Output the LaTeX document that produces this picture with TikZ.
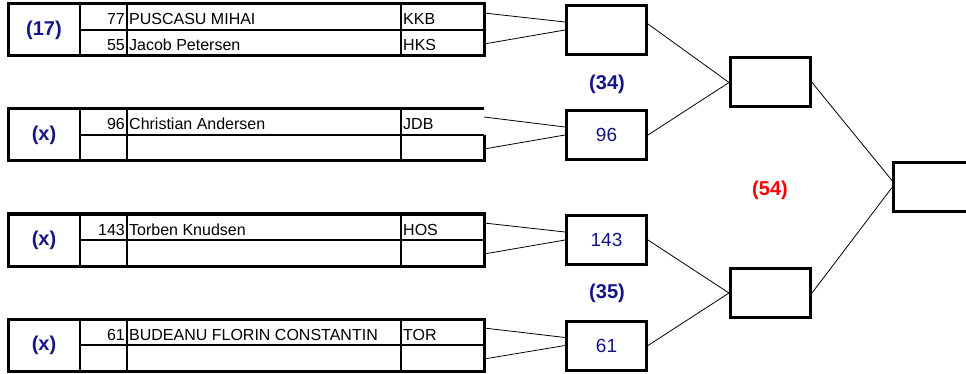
\documentclass[tikz,border=0pt]{standalone}
\usepackage{fontspec}
\setmainfont{Liberation Sans}
\definecolor{navy}{RGB}{20,20,135}
\definecolor{hot}{RGB}{255,0,0}

\begin{document}
\begin{tikzpicture}[x=1pt, y=-1pt,
    outer/.style = {line width=3pt},
    inner/.style = {line width=2pt},
    wire/.style = {line width=0.8pt},
    seed/.style = {font=\fontsize{20}{22}\selectfont\bfseries, text=navy},
    num/.style = {anchor=base east, inner sep=0, font=\fontsize{16}{18}\selectfont},
    plname/.style = {anchor=base west, inner sep=0, font=\fontsize{16}{18}\selectfont},
    slot/.style = {draw, line width=3pt, minimum width=80pt, minimum height=49pt, inner sep=0,
                   font=\fontsize{19}{21}\selectfont, text=navy},
    match/.style = {font=\fontsize{20}{22}\selectfont\bfseries, text=navy}]
  \useasboundingbox (0,0) rectangle (966,374);

  % table 1
  \draw[outer] (8,4) rectangle (484,56);
  \draw[inner] (80,4) -- (80,56) (127,4) -- (127,56) (401,4) -- (401,56) (80,30) -- (484,30);
  \node[seed] (s1) at (44,30) {(17)};
  \node[num] (n1a) at (125,25) {77};
  \node[plname] (p1a) at (129,25) {PUSCASU MIHAI};
  \node[plname] (c1a) at (403,25) {KKB};
  \node[num] (n1b) at (125,51) {55};
  \node[plname] (p1b) at (129,51) {Jacob Petersen};
  \node[plname] (c1b) at (403,51) {HKS};
  \coordinate (t1a) at (484,13);
  \coordinate (t1b) at (484,44);

  % table 2
  \draw[outer] (484,135) -- (484,161) -- (8,161) -- (8,109) -- (484,109);
  \draw[inner] (80,109) -- (80,161) (127,109) -- (127,161) (401,109) -- (401,161) (80,135) -- (484,135);
  \node[seed] (s2) at (44,135) {(x)};
  \node[num] (n2a) at (125,130) {96};
  \node[plname] (p2a) at (129,130) {Christian Andersen};
  \node[plname] (c2a) at (403,130) {JDB};
  \coordinate (t2a) at (484,117);
  \coordinate (t2b) at (484,149);

  % table 3
  \draw[outer] (8,214) rectangle (484,266);
  \draw[inner] (80,214) -- (80,266) (127,214) -- (127,266) (401,214) -- (401,266) (80,240) -- (484,240);
  \node[seed] (s3) at (44,240) {(x)};
  \node[num] (n3a) at (125,235) {143};
  \node[plname] (p3a) at (129,235) {Torben Knudsen};
  \node[plname] (c3a) at (403,235) {HOS};
  \coordinate (t3a) at (484,223);
  \coordinate (t3b) at (484,254);

  % table 4
  \draw[outer] (8,319) rectangle (484,371);
  \draw[inner] (80,319) -- (80,371) (127,319) -- (127,371) (401,319) -- (401,371) (80,345) -- (484,345);
  \node[seed] (s4) at (44,345) {(x)};
  \node[num] (n4a) at (125,340) {61};
  \node[plname] (p4a) at (129,340) {BUDEANU FLORIN CONSTANTIN};
  \node[plname] (c4a) at (403,340) {TOR};
  \coordinate (t4a) at (484,328);
  \coordinate (t4b) at (484,359);

  % first round
  \node[slot] (r1a) at (606.5,30) {};
  \node[slot] (r1b) at (606.5,135) {96};
  \node[slot] (r1c) at (606.5,240) {143};
  \node[slot] (r1d) at (606.5,345.5) {61};
  \node[match] (m34) at (607,84) {(34)};
  \node[match] (m35) at (607,293) {(35)};

  % second round
  \node[slot] (r2a) at (770.5,82.5) {};
  \node[slot] (r2b) at (770.5,293) {};
  \node[match, text=hot] (m54) at (770,190) {(54)};

  % final
  \node[slot] (fin) at (933.5,187.5) {};

  \draw[wire] (t1a) -- ([yshift=8pt]r1a.west);
  \draw[wire] (t1b) -- (r1a.west);
  \draw[wire] (t2a) -- ([yshift=8pt]r1b.west);
  \draw[wire] (t2b) -- (r1b.west);
  \draw[wire] (t3a) -- ([yshift=8pt]r1c.west);
  \draw[wire] (t3b) -- (r1c.west);
  \draw[wire] (t4a) -- ([yshift=8pt]r1d.west);
  \draw[wire] (t4b) -- (r1d.west);
  \draw[wire] ([yshift=6pt]r1a.east) -- (r2a.west);
  \draw[wire] (r1b.east) -- (r2a.west);
  \draw[wire] (r1c.east) -- (r2b.west);
  \draw[wire] (r1d.east) -- (r2b.west);
  \draw[wire] (r2a.east) -- ([yshift=7pt]fin.west);
  \draw[wire] (r2b.east) -- (fin.west);
\end{tikzpicture}
\end{document}
